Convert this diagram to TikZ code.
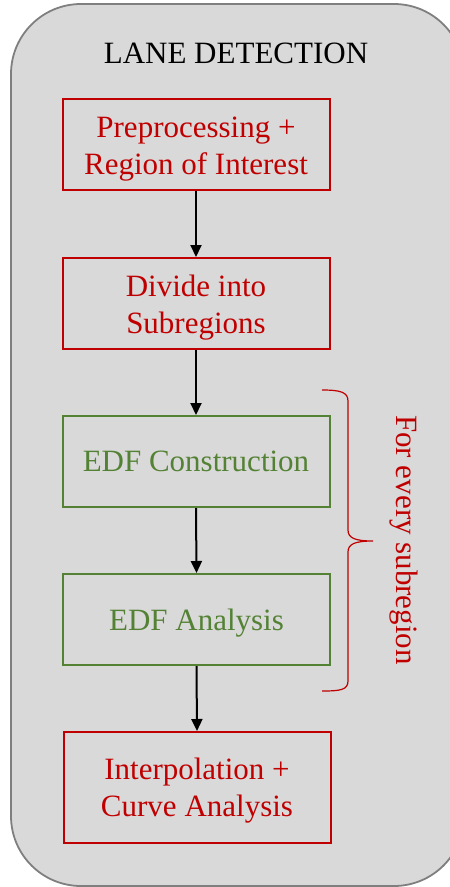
\documentclass[tikz,border=0pt]{standalone}
\usepackage{fontspec}
\setmainfont{Liberation Serif}
\usetikzlibrary{arrows.meta}
\definecolor{boxred}{HTML}{C00000}
\definecolor{boxgreen}{HTML}{548235}
\definecolor{panelgray}{HTML}{D9D9D9}
\definecolor{panelline}{HTML}{7F7F7F}
% shift the visible text down by #1 inside a vertically centred node
\newcommand{\boxtext}[2][4pt]{\raisebox{0pt}[\dimexpr\height+#1+#1\relax][\depth]{\begin{tabular}{@{}c@{}}#2\end{tabular}}}
\begin{document}
\begin{tikzpicture}[x=1pt,y=-1pt,
  stepbox/.style={draw, line width=2pt, minimum width=267pt, minimum height=91pt,
    align=center, font=\fontsize{31}{37}\selectfont, inner sep=0pt},
  redbox/.style={stepbox, draw=boxred, text=boxred},
  greenbox/.style={stepbox, draw=boxgreen, text=boxgreen},
  flow/.style={-{Triangle[length=12pt,width=11pt]}, line width=2pt, black}]
\useasboundingbox (0,0) rectangle (450,887);
\clip (0,0) rectangle (450,887);
\draw[fill=panelgray, draw=panelline, line width=1.8pt, rounded corners=70pt] (11,4) rectangle (464,886);
\node[font=\fontsize{31}{37}\selectfont] (title) at (236,53) {LANE DETECTION};
\node[redbox] (pre) at (196,144.5) {\boxtext{Preprocessing +\\Region of Interest}};
\node[redbox] (div) at (196,303.5) {\boxtext{Divide into\\Subregions}};
\node[greenbox] (con) at (196,461.5) {\boxtext[3pt]{EDF Construction}};
\node[greenbox] (ana) at (196.5,619.5) {\boxtext[4pt]{EDF Analysis}};
\node[redbox, minimum height=111pt] (int) at (197,787.5) {\boxtext[3pt]{Interpolation +\\Curve Analysis}};
\draw[flow] (pre.south) -- (div.north);
\draw[flow] (div.south) -- (con.north);
\draw[flow] (con.south) -- (ana.north);
\draw[flow] (ana.south) -- (int.north);
\draw[boxred, line width=1.2pt] (322,390) .. controls (340,390) and (348,392) .. (348,401) -- (348,530) .. controls (348,538) and (355,541) .. (373,541) .. controls (355,541) and (348,544) .. (348,552) -- (348,681) .. controls (348,690) and (340,691) .. (322,691);
\node[rotate=-90, text=boxred, font=\fontsize{31}{37}\selectfont] (lbl) at (404,540) {For every subregion};
\end{tikzpicture}
\end{document}
